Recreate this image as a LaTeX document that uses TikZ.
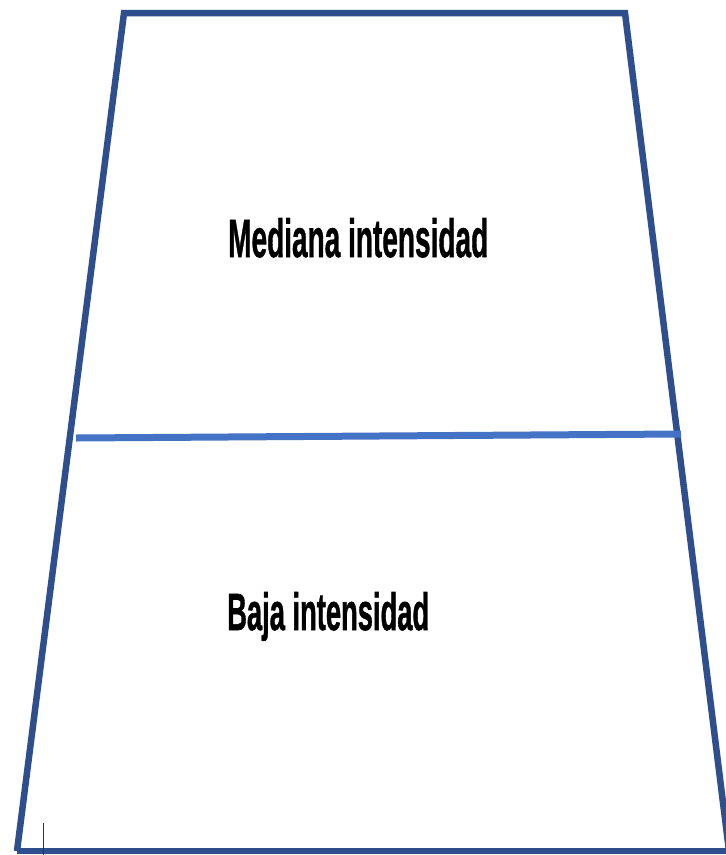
\documentclass[tikz,border=0pt]{standalone}
\usepackage{fontspec}
\setmainfont{Liberation Sans}[BoldFeatures={FakeBold=1.2}]
\usepackage{graphicx}
\definecolor{frameblue}{HTML}{2F4E8E}
\definecolor{midblue}{HTML}{4472C4}
\begin{document}
\begin{tikzpicture}[x=1pt,y=-1pt,
  frame/.style={draw=frameblue,line width=6.5pt,line join=miter},
  divider/.style={draw=midblue,line width=7pt},
  label/.style={inner sep=0pt,anchor=base west,text=black,font=\bfseries}]
\useasboundingbox[fill=white] (0,0) rectangle (726,855);
\coordinate (tl) at (124,13);
\coordinate (tr) at (625,13);
\coordinate (br) at (729,851);
\coordinate (bl) at (17,851);
\draw[frame] (bl) -- (tl) -- (tr) -- (br);
\draw[frame] (bl) -- (br);
\coordinate (ml) at (76,438);
\coordinate (mr) at (681,434);
\draw[divider] (ml) -- (mr);
\node[label] (mediana) at (228,257) {\resizebox{260pt}{39pt}{Mediana intensidad}};
\node[label] (baja) at (227,630) {\resizebox{202pt}{38pt}{Baja intensidad}};
\coordinate (ct) at (43,823);
\coordinate (cb) at (43,855);
\draw[black!80,line width=1pt] (ct) -- (cb);
\end{tikzpicture}
\end{document}
